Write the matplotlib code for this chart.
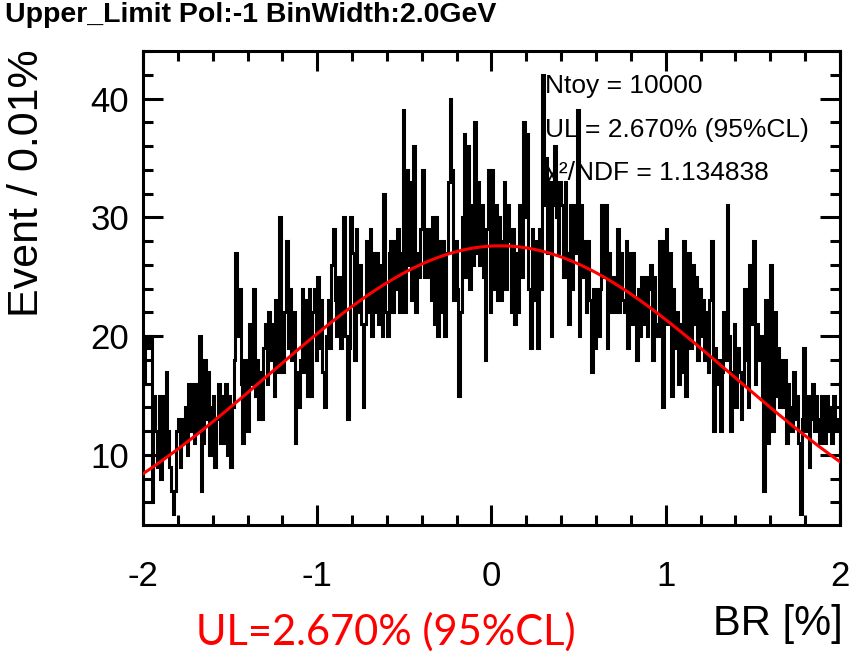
import numpy as np
import matplotlib
matplotlib.use("Agg")
import matplotlib.pyplot as plt
from matplotlib.ticker import MultipleLocator

# Histogram binning: BR from -2% to 2%, 0.01% per bin
br_min, br_max, n_bins = -2.0, 2.0, 400

# Toy-MC entries per bin
counts = [
    16, 20, 20, 19, 20, 6, 15, 12, 9, 15,
    8, 15, 10, 17, 12, 9, 7, 5, 7, 12,
    13, 9, 13, 11, 14, 10, 16, 12, 16, 11,
    16, 12, 20, 7, 11, 18, 13, 17, 10, 14,
    15, 9, 13, 16, 11, 15, 11, 16, 10, 15,
    9, 14, 18, 27, 20, 24, 16, 11, 18, 12,
    12, 21, 16, 24, 15, 18, 13, 17, 13, 19,
    21, 16, 22, 18, 21, 15, 23, 17, 30, 19,
    17, 22, 28, 19, 24, 18, 22, 11, 17, 14,
    18, 24, 17, 23, 15, 24, 15, 22, 24, 18,
    25, 19, 23, 17, 14, 20, 23, 19, 26, 29,
    23, 20, 25, 19, 23, 30, 20, 13, 19, 30,
    27, 18, 29, 22, 26, 21, 14, 21, 28, 22,
    29, 20, 27, 22, 27, 21, 26, 20, 32, 22,
    20, 27, 28, 22, 28, 24, 29, 22, 27, 39,
    22, 34, 26, 33, 23, 36, 22, 27, 25, 29,
    34, 25, 29, 25, 29, 23, 30, 21, 30, 20,
    28, 22, 28, 20, 27, 33, 40, 34, 23, 28,
    24, 15, 22, 30, 37, 25, 36, 24, 31, 26,
    38, 27, 33, 26, 31, 25, 18, 29, 34, 22,
    34, 24, 31, 23, 30, 23, 28, 33, 24, 31,
    28, 22, 29, 21, 27, 22, 31, 25, 38, 30,
    37, 24, 19, 29, 23, 28, 19, 29, 24, 42,
    31, 35, 27, 33, 20, 31, 36, 30, 27, 33,
    31, 25, 33, 27, 21, 31, 24, 31, 27, 39,
    20, 31, 25, 28, 22, 28, 23, 17, 24, 19,
    24, 20, 24, 31, 25, 31, 19, 27, 22, 25,
    25, 22, 29, 22, 27, 23, 22, 28, 19, 27,
    21, 27, 23, 18, 24, 20, 25, 21, 25, 20,
    24, 26, 18, 25, 21, 20, 28, 24, 14, 28,
    29, 21, 27, 15, 24, 19, 22, 16, 21, 17,
    28, 15, 24, 27, 19, 26, 21, 25, 18, 24,
    20, 23, 18, 22, 17, 23, 28, 12, 19, 16,
    18, 12, 17, 22, 18, 31, 20, 12, 17, 21,
    14, 19, 17, 13, 16, 24, 18, 14, 26, 21,
    28, 16, 21, 18, 20, 15, 7, 23, 11, 19,
    26, 12, 22, 15, 19, 14, 18, 14, 18, 11,
    16, 14, 12, 17, 13, 15, 11, 5, 13, 19,
    12, 15, 9, 13, 16, 12, 15, 13, 11, 15,
    13, 11, 15, 12, 14, 11, 15, 12, 13, 13,
]

# Gaussian fit result
fit_amp, fit_mean, fit_sigma = 27.6, 0.05, 1.33

title_text = "Upper_Limit Pol:-1 BinWidth:2.0GeV"
stats_lines = ["Ntoy = 10000", "UL = 2.670% (95%CL)", "\u03c7\u00b2/NDF = 1.134838"]
x_title = "BR [%]"
y_title = "Event / 0.01%"
ul_note = "UL=2.670% (95%CL)"
x_ticks = [-2, -1, 0, 1, 2]
y_ticks = [10, 20, 30, 40]
y_range = (4.1, 44.0)

W, H = 854, 657
fig = plt.figure(figsize=(W / 100, H / 100), dpi=100)
plt.rcParams["font.family"] = ["Liberation Sans", "DejaVu Sans"]


def px(x, y):
    return x / W, 1 - y / H


left, right, top, bottom = 143, 840, 51, 525
ax = fig.add_axes([left / W, 1 - bottom / H, (right - left) / W, (bottom - top) / H])

edges = np.linspace(br_min, br_max, n_bins + 1)
ax.stairs(counts, edges, baseline=0, color="black", linewidth=2.2, zorder=3)

xf = np.linspace(br_min, br_max, 600)
yf = fit_amp * np.exp(-0.5 * ((xf - fit_mean) / fit_sigma) ** 2)
ax.plot(xf, yf, color="#ff0000", linewidth=2.2, zorder=4)

ax.set_xlim(br_min, br_max)
ax.set_ylim(*y_range)
ax.set_xticks(x_ticks)
ax.set_yticks(y_ticks)
ax.set_xticklabels(["-2", "-1", "0", "1", "2"])
ax.xaxis.set_minor_locator(MultipleLocator(0.2))
ax.yaxis.set_minor_locator(MultipleLocator(2))
ax.tick_params(which="both", direction="in", top=True, right=True, width=2.2, color="black")
ax.tick_params(which="major", length=14.4)
ax.tick_params(which="minor", length=7.2)
ax.tick_params(axis="x", which="major", labelsize=25, pad=25)
ax.tick_params(axis="y", which="major", labelsize=25, pad=10)
for s in ax.spines.values():
    s.set_linewidth(2.2)

# Fit statistics, drawn under the histogram lines
for i, line in enumerate(stats_lines):
    ax.text(*px(545, 86 + i * 43.5), line, transform=fig.transFigure, fontsize=19,
            ha="left", va="center", zorder=2)

fig.text(*px(5, 15), title_text, fontsize=20.5, fontweight="bold", ha="left", va="center")
fig.text(*px(27, 183), y_title, fontsize=31, rotation=90, ha="center", va="center")
fig.text(*px(843, 624), x_title, fontsize=30, ha="right", va="center")
fig.text(*px(386, 632), ul_note, fontsize=30, color="#ff0000", ha="center", va="center",
         family=["Lato", "DejaVu Sans"])

fig.savefig("out.png", dpi=100)
